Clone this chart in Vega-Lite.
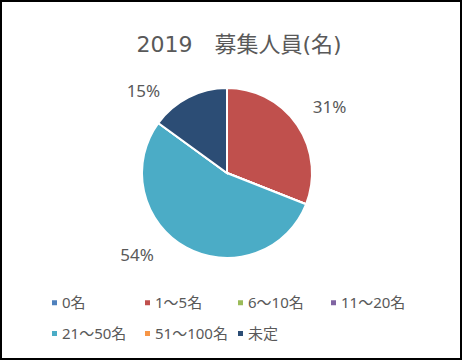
{
  "$schema": "https://vega.github.io/schema/vega-lite/v6.json",
  "width": 460,
  "height": 358,
  "padding": 1,
  "autosize": {"type": "none"},
  "background": "white",
  "view": {"stroke": "#000000", "strokeWidth": 2, "fill": "white"},
  "config": {
    "font": "Noto Sans, Noto Sans CJK JP"
  },
  "title": {
    "text": "2019　募集人員(名)",
    "orient": "top",
    "anchor": "middle",
    "frame": "group",
    "offset": -73,
    "baseline": "alphabetic",
    "dx": 8,
    "fontSize": 22,
    "fontWeight": "normal",
    "font": "DejaVu Sans, Noto Sans CJK JP",
    "color": "#595959"
  },
  "data": {
    "values": [
      {"区分": "0名", "割合": 0},
      {"区分": "1～5名", "割合": 31},
      {"区分": "6～10名", "割合": 0},
      {"区分": "11～20名", "割合": 0},
      {"区分": "21～50名", "割合": 54},
      {"区分": "51～100名", "割合": 0},
      {"区分": "未定", "割合": 15}
    ]
  },
  "transform": [
    {"stack": "割合", "groupby": [], "as": ["s0", "s1"]},
    {"calculate": "(datum.s0 + datum.s1) / 2", "as": "mid"},
    {"calculate": "datum['割合'] + '%'", "as": "ラベル"}
  ],
  "layer": [
    {
      "mark": {"type": "arc", "outerRadius": 85, "stroke": "white", "strokeWidth": 2, "xOffset": -4, "yOffset": -7},
      "encoding": {
        "theta": {"field": "s0", "type": "quantitative", "scale": {"domain": [0, 100]}},
        "theta2": {"field": "s1"},
        "color": {
          "field": "区分",
          "type": "nominal",
          "scale": {
            "domain": ["0名", "1～5名", "6～10名", "11～20名", "21～50名", "51～100名", "未定"],
            "range": ["#4F81BD", "#C0504D", "#9BBB59", "#8064A2", "#4BACC6", "#F79646", "#2C4D75"]
          },
          "legend": {
            "title": null,
            "orient": "none",
            "legendX": 46,
            "legendY": 294,
            "direction": "horizontal",
            "columns": 4,
            "gridAlign": "all",
            "symbolType": "square",
            "symbolSize": 25,
            "symbolStrokeWidth": 0,
            "labelFontSize": 15,
            "labelFont": "Noto Sans, Noto Sans CJK JP",
            "labelColor": "#595959",
            "labelOffset": 0,
            "columnPadding": 5,
            "rowPadding": 15,
            "padding": 0
          }
        }
      }
    },
    {
      "transform": [{"filter": "datum['区分'] == '1～5名'"}],
      "mark": {"type": "text", "radius": 118, "xOffset": -4, "yOffset": -7, "dx": 5, "dy": 1, "fontSize": 17, "color": "#595959", "font": "Noto Sans, Noto Sans CJK JP"},
      "encoding": {
        "theta": {"field": "mid", "type": "quantitative"},
        "text": {"field": "ラベル", "type": "nominal"}
      }
    },
    {
      "transform": [{"filter": "datum['区分'] == '21～50名'"}],
      "mark": {"type": "text", "radius": 118, "xOffset": -4, "yOffset": -7, "dx": -33, "dy": -20, "fontSize": 17, "color": "#595959", "font": "Noto Sans, Noto Sans CJK JP"},
      "encoding": {
        "theta": {"field": "mid", "type": "quantitative"},
        "text": {"field": "ラベル", "type": "nominal"}
      }
    },
    {
      "transform": [{"filter": "datum['区分'] == '未定'"}],
      "mark": {"type": "text", "radius": 118, "xOffset": -4, "yOffset": -7, "dx": -30, "dy": 24, "fontSize": 17, "color": "#595959", "font": "Noto Sans, Noto Sans CJK JP"},
      "encoding": {
        "theta": {"field": "mid", "type": "quantitative"},
        "text": {"field": "ラベル", "type": "nominal"}
      }
    }
  ]
}
